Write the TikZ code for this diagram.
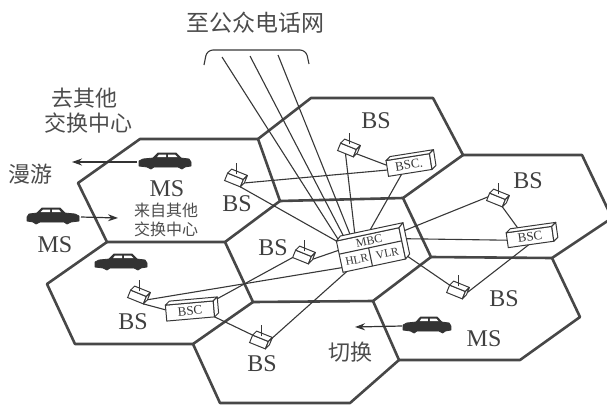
\documentclass[tikz,border=0pt]{standalone}
\usepackage{fontspec}
\setmainfont{Liberation Serif}
\newfontfamily\cjk{Noto Sans CJK SC}
\usetikzlibrary{arrows.meta,calc}

\pgfdeclarelayer{wires}
\pgfsetlayers{wires,main}

\tikzset{
  hexedge/.style={line width=2.6pt, draw=black!72, line join=round, line cap=round},
  link/.style={line width=1.1pt, draw=black!78},
  cab/.style={draw=black!78, line width=1pt, fill=white, inner sep=0pt, outer sep=0pt, text=black!78},
  cabface/.style={draw=black!78, line width=1pt, fill=white, line join=round},
  lbl/.style={text=black!75, inner sep=0pt, font=\fontsize{24}{24}\selectfont},
  cjklbl/.style={text=black!70, inner sep=0pt, font=\cjk\fontsize{22}{22}\selectfont},
  smallcjk/.style={text=black!70, inner sep=0pt, font=\cjk\fontsize{16}{17}\selectfont},
  move/.style={line width=1.2pt, draw=black!80, -{Stealth[length=10pt,width=7pt]}},
  carbody/.style={fill=black!80, draw=black!80, line width=0.8pt, line join=round},
}

% box drawn in oblique view: front face node plus top and right faces
\newcommand{\cabinet}[7]{%
  \node[cab, minimum width=#3, minimum height=#4, rotate=#5, font=#6] (#1) at #2 {#7};
  \draw[cabface] (#1.north west) -- ($(#1.north west)+(4,-4)$) -- ($(#1.north east)+(4,-4)$) -- (#1.north east) -- cycle;
  \draw[cabface] (#1.north east) -- ($(#1.north east)+(4,-4)$) -- ($(#1.south east)+(4,-4)$) -- (#1.south east) -- cycle;
}

% base station: small box with an antenna
\newcommand{\basestation}[2]{%
  \cabinet{#1}{#2}{17}{8}{-22}{}{}
  \draw[link] ($(#1.north)+(1,-2)$) -- ++(0,-11);
}

% mobile station: a dark sedan silhouette
\newcommand{\sedan}[3]{%
  \coordinate (#1) at #2;
  \begin{scope}[shift={(#1)}, xscale=#3]
    \fill[carbody] (-26,4) -- (-26,-1) -- (-22,-3) -- (-12,-4) -- (-7,-9) -- (11,-9)
      -- (16,-4) -- (24,-3) -- (26,0) -- (26,4) -- (20,5) -- (17,7) -- (13,5)
      -- (-11,5) -- (-14,7) -- (-18,5) -- cycle;
    \fill[white] (-6,-7.5) -- (1,-7.5) -- (1,-4.8) -- (-8,-4.8) -- cycle;
    \fill[white] (3,-7.5) -- (10,-7.5) -- (12.5,-4.8) -- (3,-4.8) -- cycle;
  \end{scope}
}

\begin{document}
\begin{tikzpicture}[x=1pt,y=-1pt]
\useasboundingbox (0,0) rectangle (607,405);
\clip (0,0) rectangle (607,405);

% cell corners
\coordinate (A1) at (140,139); \coordinate (A2) at (258,139);
\coordinate (A3) at (280,201); \coordinate (A4) at (225,242);
\coordinate (A5) at (107,242); \coordinate (A6) at (78,183);
\coordinate (T2) at (311,98);  \coordinate (T3) at (433,98);
\coordinate (T4) at (463,155); \coordinate (T5) at (403,198);
\coordinate (R3) at (582,155); \coordinate (R4) at (612,218);
\coordinate (R5) at (552,258); \coordinate (R6) at (431,257);
\coordinate (C5) at (373,301); \coordinate (C6) at (253,302);
\coordinate (L4) at (193,344); \coordinate (L5) at (75,344);
\coordinate (L6) at (47,284);
\coordinate (B4) at (399,360); \coordinate (B5) at (350,403);
\coordinate (B6) at (220,403);
\coordinate (D4) at (580,317); \coordinate (D5) at (520,360);

% switching centre
\node[cab, minimum width=64, minimum height=32, rotate=12] (mbc) at (371,250) {};
\draw[cabface] (mbc.north west) -- ($(mbc.north west)+(4,-5)$) -- ($(mbc.north east)+(4,-5)$) -- (mbc.north east) -- cycle;
\draw[cabface] (mbc.north east) -- ($(mbc.north east)+(4,-5)$) -- ($(mbc.south east)+(4,-5)$) -- (mbc.south east) -- cycle;
\coordinate (mdl) at ($(mbc.north west)!0.42!(mbc.south west)$);
\coordinate (mdr) at ($(mbc.north east)!0.42!(mbc.south east)$);
\draw[link] (mdl) -- (mdr);
\draw[link] ($(mdl)!0.47!(mdr)$) -- ($(mbc.south west)!0.47!(mbc.south east)$);
\node[rotate=12, text=black!78, font=\fontsize{12}{12}\selectfont, inner sep=0pt] (mbct) at ($(mbc.north)!0.22!(mbc.south)$) {MBC};
\node[rotate=12, text=black!78, font=\fontsize{11.5}{12}\selectfont, inner sep=0pt] (hlr) at ($($(mdl)!0.5!(mbc.south west)$)!0.25!($(mdr)!0.5!(mbc.south east)$)$) {HLR};
\node[rotate=12, text=black!78, font=\fontsize{11.5}{12}\selectfont, inner sep=0pt] (vlr) at ($($(mdl)!0.5!(mbc.south west)$)!0.74!($(mdr)!0.5!(mbc.south east)$)$) {VLR};

% base station controllers
\cabinet{bscT}{(409,165)}{44}{16}{9}{\fontsize{13}{13}\selectfont}{BSC.}
\cabinet{bscR}{(530,237)}{46}{15}{8}{\fontsize{13}{13}\selectfont}{BSC}
\cabinet{bscL}{(190,311)}{48}{16}{5}{\fontsize{13}{13}\selectfont}{BSC}

% base stations
\basestation{bsT}{(347,150)}
\basestation{bsA}{(234,180)}
\basestation{bsC}{(302,257)}
\basestation{bsR}{(496,200)}
\basestation{bsL}{(137,297)}
\basestation{bsB}{(259,342)}
\basestation{bsD}{(456,292)}

% public network trunk
\coordinate (brl) at (204,65); \coordinate (brr) at (309,64);
\coordinate (pst1) at (222,57); \coordinate (pst2) at (250,56); \coordinate (pst3) at (278,55);

\begin{pgfonlayer}{wires}
  % cells
  \draw[hexedge] (A1) -- (A2) -- (A3) -- (A4) -- (A5) -- (A6) -- cycle;
  \draw[hexedge] (A2) -- (T2) -- (T3) -- (T4) -- (T5) -- (A3);
  \draw[hexedge] (T4) -- (R3) -- (R4) -- (R5) -- (R6) -- (T5);
  \draw[hexedge] (A4) -- (C6) -- (C5) -- (R6);
  \draw[hexedge] (A5) -- (L6) -- (L5) -- (L4) -- (C6);
  \draw[hexedge] (L4) -- (B6) -- (B5) -- (B4) -- (C5);
  \draw[hexedge] (B4) -- (D5) -- (D4) -- (R5);

  % trunk lines to the public telephone network
  \draw[link, rounded corners=6] (brl) -- (207,50) -- (306,50) -- (brr);
  \draw[link] (pst1) -- ($(mbc.north west)!0.04!(mbc.north east)$);
  \draw[link] (pst2) -- ($(mbc.north west)!0.14!(mbc.north east)$);
  \draw[link] (pst3) -- ($(mbc.north west)!0.24!(mbc.north east)$);

  % links between stations, controllers and the switching centre
  \draw[link] (bsT.south) -- ($(mbc.north west)!0.3!(mbc.north east)$);
  \draw[link] ($(bscT.south west)!0.3!(bscT.south east)$) -- ($(mbc.north west)!0.5!(mbc.north east)$);
  \draw[link] (bsT.east) -- ($(bscT.north west)!0.3!(bscT.south west)$);
  \draw[link] (bsA.east) -- ($(bscT.north west)!0.6!(bscT.south west)$);
  \draw[link] (bsA.south east) -- (mbc.north west);
  \draw[link] (bsC.east) -- ($(mbc.north west)!0.3!(mbc.south west)$);
  \draw[link] (bsR.west) -- ($(mbc.north east)!0.15!(mbc.south east)$);
  \draw[link] (bscR.west) -- ($(mbc.north east)!0.35!(mbc.south east)$);
  \draw[link] (bsR.south east) -- ($(bscR.north west)!0.3!(bscR.north east)$);
  \draw[link] ($(bscR.south west)!0.45!(bscR.south east)$) -- (bsD.east);
  \draw[link] ($(mbc.north east)!0.85!(mbc.south east)$) -- (bsD.north west);
  \draw[link] (bsL.east) -- ($(mbc.north west)!0.85!(mbc.south west)$);
  \draw[link] (bsB.north east) -- ($(mbc.south west)!0.06!(mbc.south east)$);
  \draw[link] (bscL.north east) -- (bsC.south west);
  \draw[link] (bsL.south east) -- ($(bscL.north west)!0.3!(bscL.south west)$);
  \draw[link] (bscL.south east) -- (bsB.north west);
\end{pgfonlayer}

% mobile stations
\sedan{car1}{(165,162)}{1}
\sedan{car2}{(53,217)}{-1}
\sedan{car3}{(121,263)}{1}
\sedan{car4}{(427,326)}{0.92}

\coordinate (roamtip) at (72,162);
\coordinate (intip) at (118,218);
\coordinate (hotip) at (355,327);
\draw[move] ($(car1)+(-28,0)$) -- (roamtip);
\draw[move] ($(car2)+(28,0)$) -- (intip);
\draw[move] ($(car4)+(-25,0)$) -- (hotip);

% labels
\node[cjklbl, font=\cjk\fontsize{23}{23}\selectfont] (pstn) at (255,23) {至公众电话网};
\node[cjklbl] (out1) at (84,98) {去其他};
\node[cjklbl] (out2) at (88,123) {交换中心};
\node[cjklbl] (roam) at (31,174) {漫游};
\node[smallcjk] (in1) at (166,210) {来自其他};
\node[smallcjk] (in2) at (166,229) {交换中心};
\node[cjklbl] (ho) at (350,352) {切换};

\node[lbl] (ms1) at (167,189) {MS};
\node[lbl] (ms2) at (55,245) {MS};
\node[lbl] (ms4) at (484,339) {MS};

\node[lbl] (lbsT) at (376,121) {BS};
\node[lbl] (lbsA) at (237,204) {BS};
\node[lbl] (lbsC) at (273,248) {BS};
\node[lbl] (lbsR) at (528,181) {BS};
\node[lbl] (lbsL) at (133,322) {BS};
\node[lbl] (lbsB) at (262,364) {BS};
\node[lbl] (lbsD) at (504,299) {BS};
\end{tikzpicture}
\end{document}
